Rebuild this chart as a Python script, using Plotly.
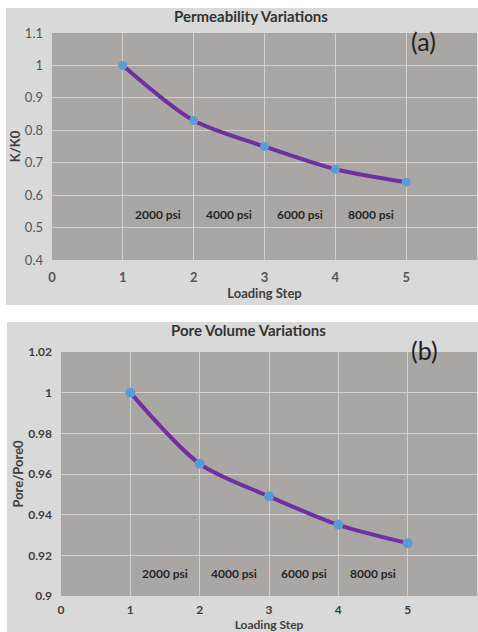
import plotly.graph_objects as go

# ---- data ----
loading_step = [1, 2, 3, 4, 5]
k_ratio = [1.0, 0.83, 0.75, 0.68, 0.64]
pore_ratio = [1.0, 0.965, 0.949, 0.935, 0.926]
pressure_labels = ["2000 psi", "4000 psi", "6000 psi", "8000 psi"]
x_ticks = [0, 1, 2, 3, 4, 5, 6]
y_ticks_a = [0.4, 0.5, 0.6, 0.7, 0.8, 0.9, 1.0, 1.1]
y_tick_text_a = ["0.4", "0.5", "0.6", "0.7", "0.8", "0.9", "1", "1.1"]
y_ticks_b = [0.9, 0.92, 0.94, 0.96, 0.98, 1.0, 1.02]
y_tick_text_b = ["0.9", "0.92", "0.94", "0.96", "0.98", "1", "1.02"]

W, H = 478, 632
FONT = "Lato"
LINE_COLOR = "#7030a0"
MARK_COLOR = "#5b9bd5"
PLOT_BG = "#aaa6a4"
OUTER_BG = "#d9d9d9"
GRID = "#d2d0ce"
TICK_COLOR = "#555555"

def px(x):
    return x / W

def py(y):
    return 1 - y / H

fig = go.Figure()

fig.add_trace(go.Scatter(
    x=loading_step, y=k_ratio, mode="lines+markers",
    line=dict(color=LINE_COLOR, width=4, shape="spline", smoothing=0.8),
    marker=dict(color=MARK_COLOR, size=9),
    xaxis="x", yaxis="y", showlegend=False, hoverinfo="x+y"))

fig.add_trace(go.Scatter(
    x=loading_step, y=pore_ratio, mode="lines+markers",
    line=dict(color=LINE_COLOR, width=4, shape="spline", smoothing=0.8),
    marker=dict(color=MARK_COLOR, size=10),
    xaxis="x2", yaxis="y2", showlegend=False, hoverinfo="x+y"))

common_x = dict(range=[0, 6], tickvals=x_ticks, showgrid=True, gridcolor=GRID,
                gridwidth=1, zeroline=False, showline=False, ticks="", automargin=False,
                fixedrange=True)

fig.update_layout(
    width=W, height=H,
    margin=dict(l=0, r=0, t=0, b=0),
    paper_bgcolor=OUTER_BG,
    plot_bgcolor=PLOT_BG,
    xaxis=dict(domain=[px(52), px(477)], anchor="y", ticklabelstandoff=8,
               tickfont=dict(family=FONT, size=13, color=TICK_COLOR, weight="bold"),
               title=dict(text="<b>Loading Step</b>", standoff=2,
                          font=dict(family=FONT, size=13, color="#404040")),
               **common_x),
    yaxis=dict(domain=[py(260), py(33)], anchor="x", range=[0.4, 1.1],
               tickvals=y_ticks_a, ticktext=y_tick_text_a, automargin=False,
               showgrid=True, gridcolor=GRID, zeroline=False, showline=False, ticks="",
               ticklabelstandoff=8,
               tickfont=dict(family=FONT, size=13, color=TICK_COLOR),
               title=dict(text="<b>K/K0</b>", standoff=1,
                          font=dict(family=FONT, size=13, color="#404040"))),
    xaxis2=dict(domain=[px(61), px(477)], anchor="y2", ticklabelstandoff=5,
                tickfont=dict(family=FONT, size=12, color="#404040", weight="bold"),
                title=dict(text="<b>Loading Step</b>", standoff=1,
                           font=dict(family=FONT, size=12, color="#404040")),
                **common_x),
    yaxis2=dict(domain=[py(596), py(352)], anchor="x2", range=[0.9, 1.02],
                tickvals=y_ticks_b, ticktext=y_tick_text_b, automargin=False,
                showgrid=True, gridcolor=GRID, zeroline=False, showline=False, ticks="",
                ticklabelstandoff=8,
                tickfont=dict(family=FONT, size=12, color="#404040", weight="bold"),
                title=dict(text="<b>Pore/Pore0</b>", standoff=1,
                           font=dict(family=FONT, size=13, color="#404040"))),
)

# white gaps around the two chart areas
for x0, x1, y0, y1 in [(0, W, 0, 8), (0, 6, 0, 305), (0, W, 305, 322), (0, 7, 322, H)]:
    fig.add_shape(type="rect", xref="paper", yref="paper",
                  x0=px(x0), x1=px(x1), y0=py(y1), y1=py(y0),
                  fillcolor="white", line=dict(width=0), layer="below")

def label(text, x, y, size, color):
    fig.add_annotation(text=text, xref="paper", yref="paper", x=px(x), y=py(y),
                       xanchor="center", yanchor="middle", showarrow=False,
                       font=dict(family=FONT, size=size, color=color))

# titles
label("<b>Permeability Variations</b>", 251, 16, 15, "#333333")
label("<b>Pore Volume Variations</b>", 248, 330, 15, "#333333")

# panel labels
label("(a)", 423, 41, 25, "#222222")
label("(b)", 424, 350, 25, "#222222")

# pressure labels between loading steps
for i, lab in enumerate(pressure_labels):
    xm = (loading_step[i] + loading_step[i + 1]) / 2
    fig.add_annotation(text="<b>" + lab + "</b>", x=xm, y=0.54, xref="x", yref="y",
                       showarrow=False, font=dict(family=FONT, size=12, color="#262626"))
    fig.add_annotation(text="<b>" + lab + "</b>", x=xm, y=0.911, xref="x2", yref="y2",
                       showarrow=False, font=dict(family=FONT, size=12, color="#262626"))

fig.write_html("out.html", config={"displayModeBar": False},
               post_script="document.body.style.margin='0';document.body.style.overflow='hidden';")
